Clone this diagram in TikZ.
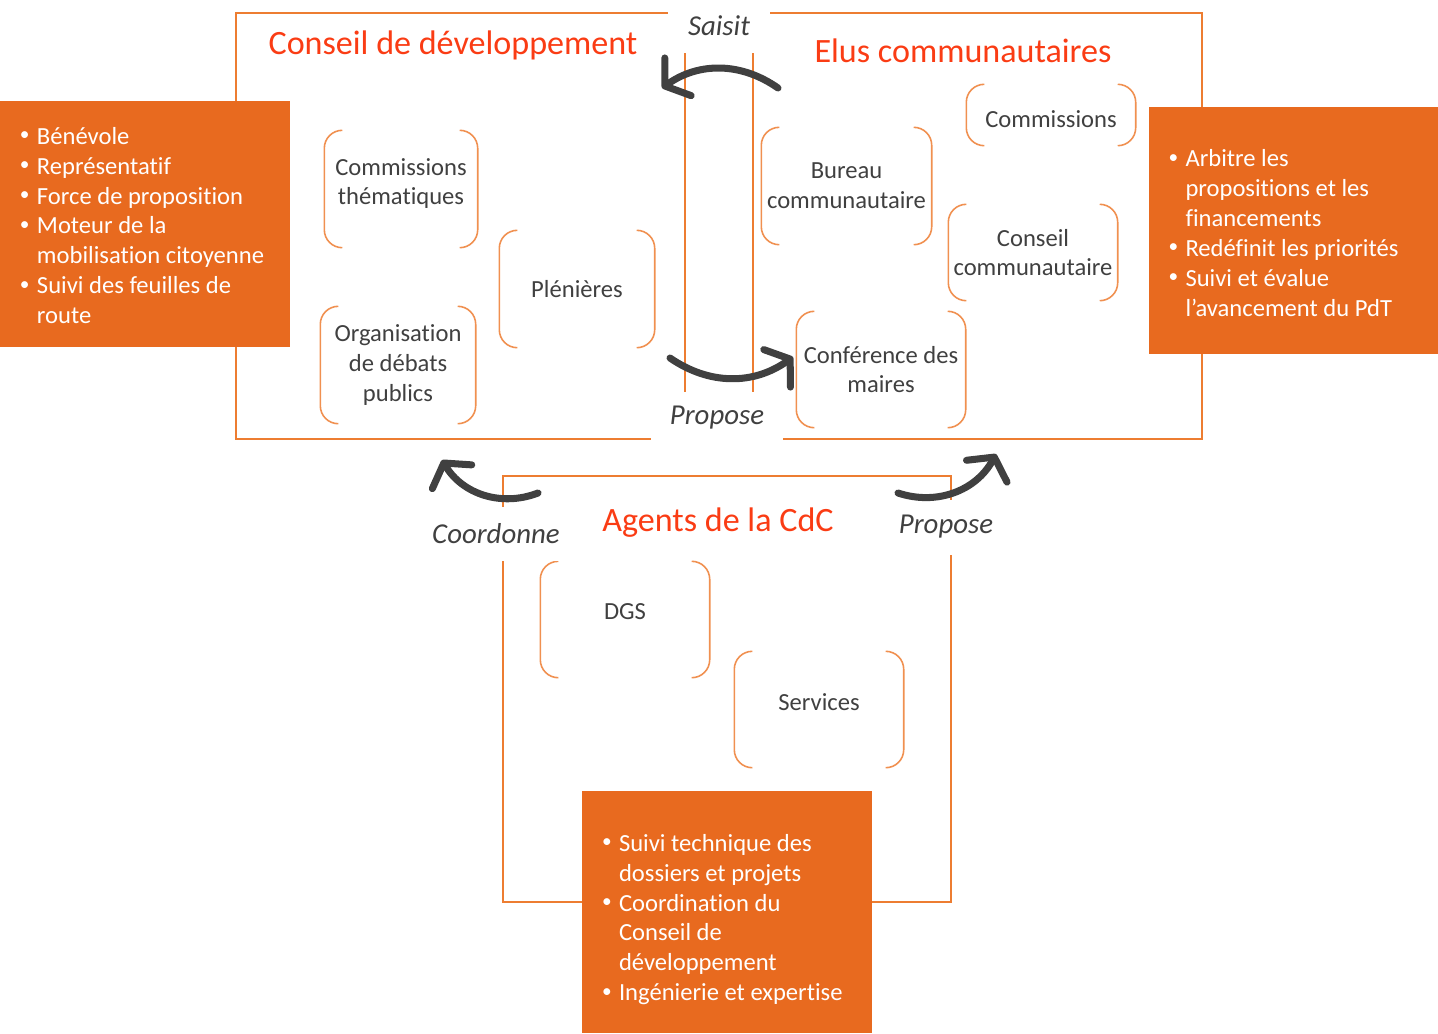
\documentclass[tikz,border=0pt]{standalone}
\usepackage{fontspec}
\setmainfont{Carlito}[Ligatures=NoCommon]
\usetikzlibrary{arrows.meta}

\definecolor{cadre}{RGB}{237,125,49}
\definecolor{remplir}{RGB}{232,106,31}
\definecolor{titre}{RGB}{250,60,20}
\definecolor{gris}{RGB}{64,64,64}

\newcommand{\puce}{\makebox[1.7mm][l]{\raisebox{1pt}{\fontsize{5.5}{5.5}\selectfont\textbullet}}}

\begin{document}
\begin{tikzpicture}[
    cadre/.style={draw=cadre, line width=0.7pt},
    titre/.style={text=titre, font=\fontsize{9.7}{11}\selectfont},
    etiq/.style={fill=white, inner sep=0pt, text=gris, font=\fontsize{8.2}{10}\selectfont\itshape},
    groupe/.style={inner sep=0pt, align=center, text=gris, font=\fontsize{7}{8.5}\selectfont},
    crochet/.style={draw=cadre!85, line width=0.45pt},
    info/.style={fill=remplir, inner sep=0pt, minimum width=2.9cm},
    infotexte/.style={anchor=west, inner sep=0pt, text=white, font=\fontsize{7}{8.5}\selectfont},
    fleche/.style={draw=gris, line width=2pt, line cap=round, -{Straight Barb[length=1.6mm,width=4.6mm,round]}}
  ]
    \useasboundingbox (0,0) rectangle (14.38,-10.33);

    % les trois cadres
    \draw[cadre] (2.36,-0.13) rectangle (7.53,-4.39);
    \draw[cadre] (6.85,-0.13) rectangle (12.02,-4.39);
    \draw[cadre] (5.03,-4.76) rectangle (9.51,-9.02);

    \node[titre] (cd_titre) at (4.53,-0.45) {Conseil de développement};
    \node[titre] (ec_titre) at (9.63,-0.51) {Elus communautaires};
    \node[titre] (ag_titre) at (7.18,-5.23) {Agents de la CdC};

    \node[groupe, minimum width=1.52cm, minimum height=1.16cm, text depth=0.15cm] (comm_them) at (4.01,-1.89) {Commissions\\thématiques};
    \node[groupe, minimum width=1.54cm, minimum height=1.16cm] (plenieres) at (5.77,-2.89) {Plénières};
    \node[groupe, minimum width=1.54cm, minimum height=1.16cm] (debats) at (3.98,-3.65) {Organisation\\de débats\\publics};
    \node[groupe, minimum width=1.69cm, minimum height=1.16cm] (bureau) at (8.465,-1.86) {Bureau\\communautaire};
    \node[groupe, minimum width=1.68cm, minimum height=0.60cm, text height=0.26cm] (commissions) at (10.51,-1.15) {Commissions};
    \node[groupe, minimum width=1.68cm, minimum height=0.95cm] (conseil) at (10.33,-2.525) {Conseil\\communautaire};
    \node[groupe, minimum width=1.68cm, minimum height=1.15cm] (conference) at (8.81,-3.695) {Conférence des\\maires};
    \node[groupe, minimum width=1.68cm, minimum height=1.15cm, text depth=0.16cm] (dgs) at (6.25,-6.195) {DGS};
    \node[groupe, minimum width=1.68cm, minimum height=1.15cm, text depth=0.15cm] (services) at (8.19,-7.095) {Services};

    \foreach \n in {comm_them,plenieres,debats,bureau,commissions,conseil,conference,dgs,services} {
      \draw[crochet] ([xshift=1.8mm]\n.north west) arc[start angle=90, end angle=180, radius=1.8mm]
        -- ([yshift=1.8mm]\n.south west) arc[start angle=180, end angle=270, radius=1.8mm];
      \draw[crochet] ([xshift=-1.8mm]\n.north east) arc[start angle=90, end angle=0, radius=1.8mm]
        -- ([yshift=1.8mm]\n.south east) arc[start angle=0, end angle=-90, radius=1.8mm];
    }

    % encadres orange
    \node[info, minimum height=2.46cm] (cd_info) at (1.45,-2.24) {};
    \node[infotexte] (cd_liste) at ([xshift=2mm, yshift=-0.4mm]cd_info.west) {%
      \begin{tabular}{@{}l@{}l@{}}
        \puce & Bénévole\\
        \puce & Représentatif\\
        \puce & Force de proposition\\
        \puce & Moteur de la\\
              & mobilisation citoyenne\\
        \puce & Suivi des feuilles de\\
              & route
      \end{tabular}};

    \node[info, minimum height=2.47cm] (ec_info) at (12.935,-2.305) {};
    \node[infotexte] (ec_liste) at ([xshift=2mm, yshift=-0.5mm]ec_info.west) {%
      \begin{tabular}{@{}l@{}l@{}}
        \puce & Arbitre les\\
              & propositions et les\\
              & financements\\
        \puce & Redéfinit les priorités\\
        \puce & Suivi et évalue\\
              & l’avancement du PdT
      \end{tabular}};

    \node[info, minimum height=2.42cm] (ag_info) at (7.27,-9.12) {};
    \node[infotexte] (ag_liste) at ([xshift=2mm, yshift=-0.8mm]ag_info.west) {%
      \begin{tabular}{@{}l@{}l@{}}
        \puce & Suivi technique des\\
              & dossiers et projets\\
        \puce & Coordination du\\
              & Conseil de\\
              & développement\\
        \puce & Ingénierie et expertise
      \end{tabular}};

    \node[etiq, minimum width=1.02cm, minimum height=0.46cm, text depth=0.08cm] (saisit) at (7.19,-0.30) {Saisit};
    \node[etiq, minimum width=1.32cm, minimum height=0.52cm] (prop_haut) at (7.17,-4.18) {Propose};
    \node[etiq, minimum width=1.40cm, minimum height=0.54cm] (coord) at (4.96,-5.34) {Coordonne};
    \node[etiq, minimum width=1.10cm, minimum height=0.55cm] (prop_bas) at (9.46,-5.27) {Propose};

    \coordinate (saisit_a) at (7.78,-0.88);
    \coordinate (saisit_b) at (6.62,-0.88);
    \coordinate (prop_haut_a) at (6.70,-3.58);
    \coordinate (prop_haut_b) at (7.93,-3.57);
    \coordinate (coord_a) at (5.38,-4.93);
    \coordinate (coord_b) at (4.42,-4.60);
    \coordinate (prop_bas_a) at (8.98,-4.93);
    \coordinate (prop_bas_b) at (9.96,-4.54);

    \draw[fleche] (saisit_a) to[bend right=35] (saisit_b);
    \draw[fleche] (prop_haut_a) to[bend right=35] (prop_haut_b);
    \draw[fleche] (coord_a) to[bend left=40] (coord_b);
    \draw[fleche] (prop_bas_a) to[bend right=40] (prop_bas_b);

  \end{tikzpicture}
\end{document}
